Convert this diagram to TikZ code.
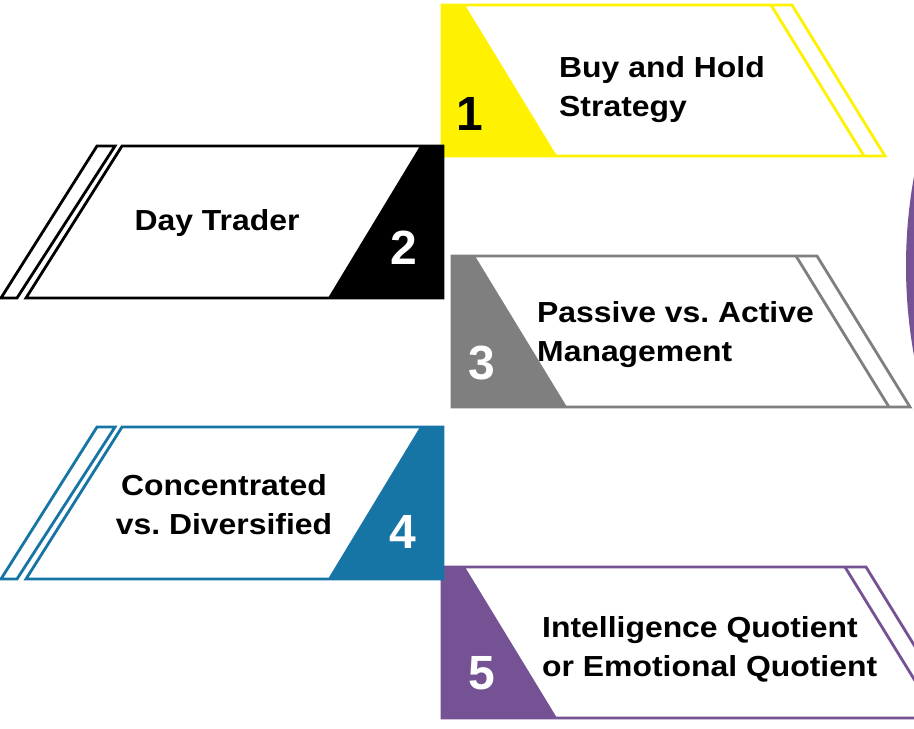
\documentclass[tikz,border=0pt]{standalone}
\usepackage{fontspec}
\setmainfont{Liberation Sans}
\newfontfamily\cardfont{Liberation Sans}[FakeStretch=1.1]
\frenchspacing
\definecolor{cardyellow}{HTML}{FFF200}
\definecolor{cardgray}{HTML}{7F7F7F}
\definecolor{cardblue}{HTML}{1775A6}
\definecolor{cardpurple}{HTML}{745294}
\tikzset{
	card/.style={fill=white, line width=2.8pt, line join=miter},
	cardline/.style={line width=2.8pt},
	cardtext/.style={font=\cardfont\bfseries\fontsize{29}{39.5}\selectfont, align=left, inner sep=0pt},
	cardnum/.style={font=\bfseries\fontsize{48}{48}\selectfont, inner sep=0pt},
}

\begin{document}
\begin{tikzpicture}[x=1pt,y=-1pt]
	\clip (0,0) rectangle (914,729);
	\fill[white] (0,0) rectangle (914,729);
	% purple disc at the right edge
	\fill[cardpurple] (1406,266) circle[radius=500pt];
	% cards pointing right: 1, 3, 5
	\foreach \col/\lx/\ty/\rx in {cardyellow/442/5/771, cardgray/452/256/796, cardpurple/442/567/845} {
		\draw[card, draw=\col] (\lx,\ty) -- (\rx+21,\ty) -- (\rx+114,\ty+151) -- (\lx,\ty+151) -- cycle;
		\fill[\col] (\lx,\ty) -- (\lx+23,\ty) -- (\lx+115,\ty+151) -- (\lx,\ty+151) -- cycle;
		\draw[cardline, draw=\col] (\rx,\ty) -- (\rx+93,\ty+151);
	}
	% cards pointing left: 2, 4
	\foreach \col/\ty in {black/146, cardblue/427} {
		\draw[card, draw=\col] (122,\ty) -- (443,\ty) -- (443,\ty+152) -- (26,\ty+152) -- cycle;
		\fill[\col] (420,\ty) -- (443,\ty) -- (443,\ty+152) -- (328,\ty+152) -- cycle;
		\draw[card, draw=\col] (97,\ty) -- (115,\ty) -- (17,\ty+152) -- (1,\ty+152) -- cycle;
	}
	% labels
	\node[cardtext, anchor=north west] (buyhold) at (559,56) {Buy and Hold\\Strategy};
	\node[cardnum] (num1) at (470,114) {1};
	\node[cardtext, anchor=north, align=center] (daytrader) at (217,209) {Day Trader};
	\node[cardnum, text=white] (num2) at (404,248) {2};
	\node[cardtext, anchor=north west] (passive) at (537,301) {Passive vs. Active\\Management};
	\node[cardnum, text=white] (num3) at (482,363) {3};
	\node[cardtext, anchor=north, align=center] (concentrated) at (224,474) {Concentrated\\vs. Diversified};
	\node[cardnum, text=white] (num4) at (403,532) {4};
	\node[cardtext, anchor=north west] (iqeq) at (542,616) {Intelligence Quotient\\or Emotional Quotient};
	\node[cardnum, text=white] (num5) at (482,673) {5};
\end{tikzpicture}
\end{document}
